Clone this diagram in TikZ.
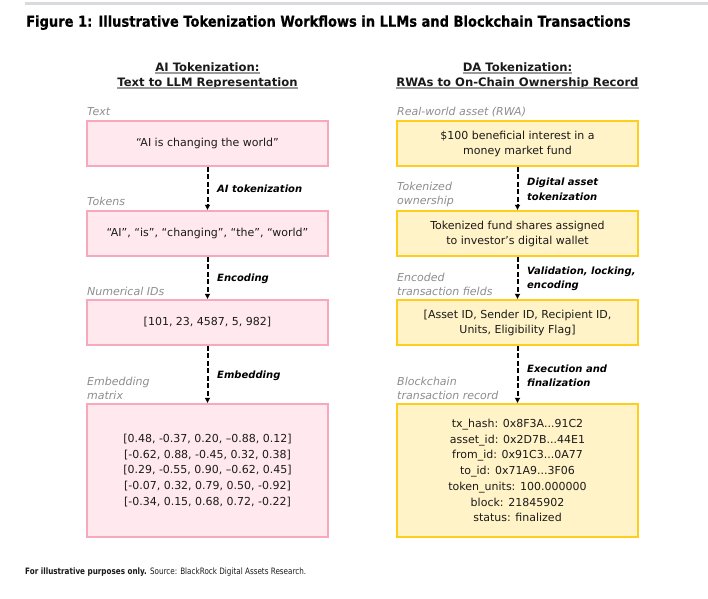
\documentclass[tikz,border=0pt]{standalone}
\usepackage{fontspec}
\setmainfont{DejaVu Sans}
\newfontfamily\titlefont{DejaVu Sans}[FakeStretch=0.87,FakeBold=0.6]
\newfontfamily\footfont{DejaVu Sans}[FakeStretch=0.82]
\usetikzlibrary{arrows.meta}
\definecolor{pinkline}{HTML}{F7A9BB}
\definecolor{pinkfill}{HTML}{FFE9EE}
\definecolor{yelline}{HTML}{FFCD1C}
\definecolor{yelfill}{HTML}{FFF3C7}
\definecolor{graytext}{HTML}{8D8D8D}
\definecolor{rulegray}{HTML}{D9DAE0}
\definecolor{ulgray}{HTML}{9A9A9A}
\definecolor{ink}{HTML}{1A1A1A}
\tikzset{
  boxbase/.style={rectangle, line width=1.5pt, minimum width=241pt, minimum height=45pt,
    align=center, inner sep=0pt, text=ink, font={\fontsize{11}{15}\selectfont}},
  pbox/.style={boxbase, draw=pinkline, fill=pinkfill},
  ybox/.style={boxbase, draw=yelline, fill=yelfill},
  lbl/.style={anchor=west, inner sep=0pt, align=left, text=graytext,
    font={\itshape\fontsize{11}{14}\selectfont}},
  steplbl/.style={anchor=west, inner sep=0pt, align=left, text=black,
    font={\bfseries\itshape\fontsize{10}{14.5}\selectfont}},
  head/.style={anchor=base, inner sep=0pt, text=ink, font={\bfseries\fontsize{11.6}{14}\selectfont}},
  ul/.style={draw=ulgray, line width=1.3pt},
  flow/.style={draw=black, line width=2pt, dash pattern=on 5pt off 2.5pt,
    -{Latex[length=5.5pt,width=6pt]}},
}
\begin{document}
\begin{tikzpicture}[x=1pt,y=-1pt]
\useasboundingbox (0,0) rectangle (708,598);
\draw[draw=rulegray, line width=2.5pt] (25,3.3) -- (708,3.3);
\node[anchor=base west, inner sep=0pt, text=black, font={\titlefont\bfseries\fontsize{15}{17}\selectfont}] (title) at (26,26.7)
  {Figure 1: Illustrative Tokenization Workflows in LLMs and Blockchain Transactions};
% headers
\node[head] (hA1) at (207.5,71) {AI Tokenization:};
\node[head] (hA2) at (207.5,86) {Text to LLM Representation};
\node[head] (hB1) at (517.5,71) {DA Tokenization:};
\node[head] (hB2) at (517.5,86) {RWAs to On-Chain Ownership Record};
\foreach \h in {hA1,hA2,hB1,hB2}{
  \draw[ul] ([yshift=-2pt]\h.base west) -- ([yshift=-2pt]\h.base east);
}
% left column
\node[lbl] (lt1) at (87,112) {Text};
\node[pbox] (a1) at (207.5,143.5) {“AI is changing the world”};
\node[lbl] (lt2) at (87,201) {Tokens};
\node[pbox] (a2) at (207.5,233.5) {“AI”, “is”, “changing”, “the”, “world”};
\node[lbl] (lt3) at (87,291) {Numerical IDs};
\node[pbox] (a3) at (207.5,322.5) {{[}101, 23, 4587, 5, 982]};
\node[lbl] (lt4) at (87,388) {Embedding\\matrix};
\node[pbox, minimum height=133pt, font={\fontsize{11}{15.8}\selectfont}] (a4) at (207.5,470.5)
  {{[}0.48, -0.37, 0.20, –0.88, 0.12]\\
   {[}-0.62, 0.88, -0.45, 0.32, 0.38]\\
   {[}0.29, -0.55, 0.90, –0.62, 0.45]\\
   {[}-0.07, 0.32, 0.79, 0.50, -0.92]\\
   {[}-0.34, 0.15, 0.68, 0.72, -0.22]};
\draw[flow] (a1.south) -- (a2.north);
\draw[flow] (a2.south) -- (a3.north);
\draw[flow] (a3.south) -- (a4.north);
\node[steplbl] (sa1) at (217,189) {AI tokenization};
\node[steplbl] (sa2) at (217,279) {Encoding};
\node[steplbl] (sa3) at (217,376) {Embedding};
% right column
\node[lbl] (rt1) at (397,112) {Real-world asset (RWA)};
\node[ybox] (b1) at (517.5,143.5) {\$100 beneficial interest in a\\money market fund};
\node[lbl] (rt2) at (397,194) {Tokenized\\ownership};
\node[ybox] (b2) at (517.5,233.5) {Tokenized fund shares assigned\\to investor’s digital wallet};
\node[lbl] (rt3) at (397,284) {Encoded\\transaction fields};
\node[ybox] (b3) at (517.5,322.5) {{[}Asset ID, Sender ID, Recipient ID,\\Units, Eligibility Flag]};
\node[lbl] (rt4) at (397,388) {Blockchain\\transaction record};
\node[ybox, minimum height=133pt, font={\fontsize{11}{15.7}\selectfont}] (b4) at (517.5,470.5)
  {tx\_hash: 0x8F3A...91C2\\
   asset\_id: 0x2D7B...44E1\\
   from\_id: 0x91C3...0A77\\
   to\_id: 0x71A9...3F06\\
   token\_units: 100.000000\\
   block: 21845902\\
   status: finalized};
\draw[flow] (b1.south) -- (b2.north);
\draw[flow] (b2.south) -- (b3.north);
\draw[flow] (b3.south) -- (b4.north);
\node[steplbl] (sb1) at (527,189.5) {Digital asset\\tokenization};
\node[steplbl] (sb2) at (527,279) {Validation, locking,\\encoding};
\node[steplbl] (sb3) at (527,376) {Execution and\\finalization};
% footer
\node[anchor=base west, inner sep=0pt, text=ink, font={\footfont\fontsize{8.8}{10}\selectfont}] (foot) at (25,574)
  {{\bfseries For illustrative purposes only.} Source: BlackRock Digital Assets Research.};
\end{tikzpicture}
\end{document}
